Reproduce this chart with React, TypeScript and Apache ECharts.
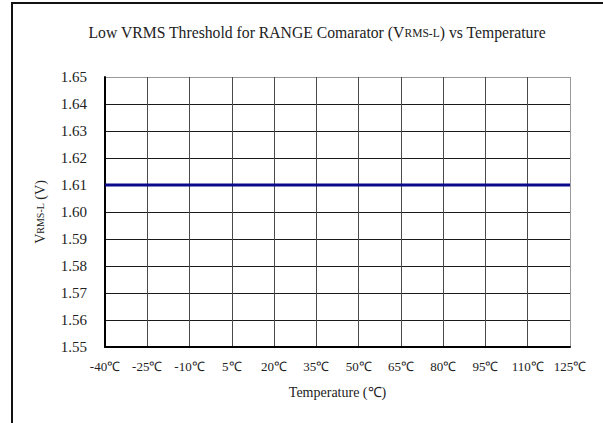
import React, { useEffect, useRef } from "react";
import * as echarts from "echarts";

const temperatures = ["-40", "-25", "-10", "5", "20", "35", "50", "65", "80", "95", "110", "125"];
const vrmsL = [1.61, 1.61, 1.61, 1.61, 1.61, 1.61, 1.61, 1.61, 1.61, 1.61, 1.61, 1.61];
const yMin = 1.55;
const yMax = 1.65;
const yStep = 0.01;

const FONT = "'Liberation Serif', 'Times New Roman', serif";

export default function App() {
  const ref = useRef<HTMLDivElement>(null);
  useEffect(() => {
    if (!ref.current) return;
    const chart = echarts.init(ref.current, undefined, { renderer: "svg" });
    const yLineColors = Array.from({ length: 11 }, (_, i) => (i === 10 ? "#999999" : "#1a1a1a"));
    const xLineColors = temperatures.map((_, i) => (i === temperatures.length - 1 ? "#999999" : "#4a4a4a"));
    chart.setOption({
      animation: false,
      backgroundColor: "#ffffff",
      textStyle: { fontFamily: FONT },
      title: {
        text: "Low VRMS Threshold for RANGE Comarator (V{s|RMS-L}) vs Temperature",
        left: 312,
        textAlign: "center",
        top: 19,
        textStyle: {
          fontFamily: FONT,
          fontSize: 15.7,
          fontWeight: "normal",
          color: "#222",
          rich: { s: { fontFamily: FONT, fontSize: 11.5, color: "#222", padding: [2, 0, 0, 0] } },
        },
      },
      graphic: [
        {
          type: "rect",
          shape: { x: 11, y: 2, width: 592, height: 2 },
          style: { fill: "#111" },
          z: -1,
        },
        {
          type: "rect",
          shape: { x: 11, y: 2, width: 2, height: 421 },
          style: { fill: "#111" },
          z: -1,
        },
      ],
      grid: { left: 105, top: 77, width: 465, height: 270, containLabel: false },
      xAxis: {
        type: "category",
        data: temperatures,
        boundaryGap: false,
        axisLine: { show: true, lineStyle: { color: "#000", width: 2 } },
        axisTick: { show: false },
        axisLabel: {
          formatter: (v: string) => v + "℃",
          fontFamily: FONT,
          fontSize: 13,
          color: "#222",
          margin: 13,
        },
        splitLine: { show: true, lineStyle: { color: xLineColors, width: 1 } },
        name: "Temperature (℃)",
        nameLocation: "middle",
        nameGap: 38,
        nameTextStyle: { fontFamily: FONT, fontSize: 14, color: "#222" },
      },
      yAxis: {
        type: "value",
        min: yMin,
        max: yMax,
        interval: yStep,
        axisLine: { show: true, lineStyle: { color: "#000", width: 2 } },
        axisTick: { show: false },
        axisLabel: {
          formatter: (v: number) => v.toFixed(2),
          fontFamily: FONT,
          fontSize: 15,
          color: "#222",
          margin: 18,
        },
        splitLine: { show: true, lineStyle: { color: yLineColors, width: 1 } },
        name: "V{s|RMS-L} (V)",
        nameLocation: "middle",
        nameRotate: 90,
        nameGap: 58,
        nameTextStyle: {
          fontFamily: FONT,
          fontSize: 14,
          color: "#222",
          rich: { s: { fontFamily: FONT, fontSize: 10, color: "#222" } },
        },
      },
      series: [
        {
          type: "line",
          data: vrmsL,
          symbol: "none",
          lineStyle: { color: "#0a0a8a", width: 3 },
        },
      ],
    });
    return () => chart.dispose();
  }, []);
  return (
    <div
      ref={ref}
      style={{ position: "fixed", left: 0, top: 0, width: 603, height: 423, background: "#fff", overflow: "hidden" }}
    />
  );
}
